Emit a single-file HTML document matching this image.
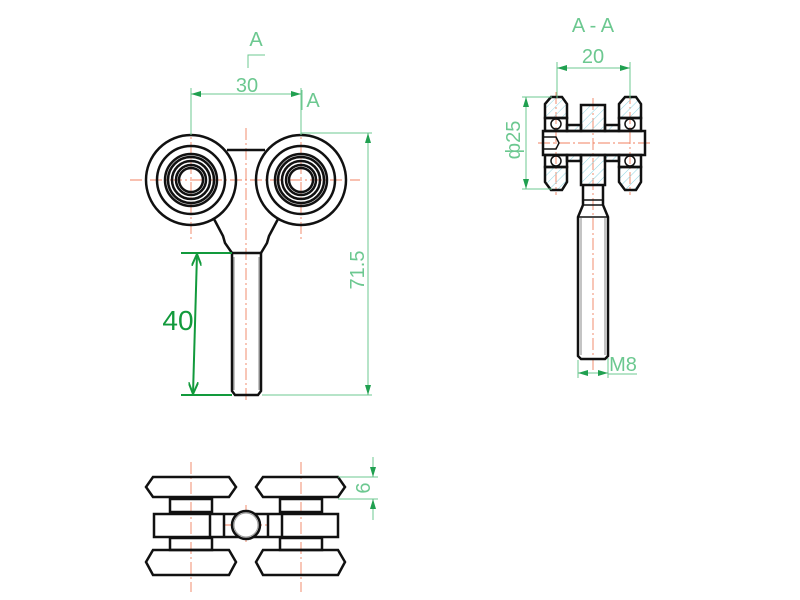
<!DOCTYPE html>
<html><head><meta charset="utf-8"><style>html,body{margin:0;padding:0;background:#fff}svg{display:block}</style></head>
<body>
<svg width="800" height="600" viewBox="0 0 800 600" xmlns="http://www.w3.org/2000/svg" font-family="Liberation Sans, sans-serif">
<defs>
<marker id="a" viewBox="0 0 10 6" refX="10" refY="3" markerWidth="10" markerHeight="6" orient="auto-start-reverse" markerUnits="userSpaceOnUse"><path d="M0,0L10,3L0,6z" fill="#20a050"/></marker>
<marker id="b" viewBox="0 0 12 10" refX="12" refY="5" markerWidth="12" markerHeight="10" orient="auto-start-reverse" markerUnits="userSpaceOnUse"><path d="M0,0L12,5L0,10" fill="none" stroke="#129a3c" stroke-width="2"/></marker>
<pattern id="h" width="6" height="6" patternUnits="userSpaceOnUse" patternTransform="rotate(45)"><line x1="0" y1="0" x2="0" y2="6" stroke="#8fd4e0" stroke-width="1"/></pattern>
</defs>
<g fill="none" stroke="#f08060" stroke-width="0.9" stroke-dasharray="12,3,2,3">
<line x1="130" y1="180" x2="360" y2="180"/>
<line x1="191" y1="122" x2="191" y2="240"/>
<line x1="301" y1="122" x2="301" y2="240"/>
<line x1="246" y1="128" x2="246" y2="400"/>
<line x1="538" y1="143" x2="650" y2="143"/>
<line x1="556" y1="92" x2="556" y2="195"/>
<line x1="630" y1="92" x2="630" y2="195"/>
<line x1="593" y1="98" x2="593" y2="370"/>
<line x1="191" y1="462" x2="191" y2="592"/>
<line x1="301" y1="462" x2="301" y2="592"/>
<line x1="246" y1="505" x2="246" y2="545"/>
<line x1="225" y1="525" x2="268" y2="525"/>
</g>
<g fill="none" stroke="#111" stroke-width="2.5">
<circle cx="191" cy="180" r="45"/><circle cx="191" cy="180" r="34"/><circle cx="191" cy="180" r="26"/><circle cx="191" cy="180" r="23"/><circle cx="191" cy="180" r="19"/><circle cx="191" cy="180" r="15"/><circle cx="191" cy="180" r="12"/>
<circle cx="301" cy="180" r="45"/><circle cx="301" cy="180" r="34"/><circle cx="301" cy="180" r="26"/><circle cx="301" cy="180" r="23"/><circle cx="301" cy="180" r="19"/><circle cx="301" cy="180" r="15"/><circle cx="301" cy="180" r="12"/>
<line x1="227" y1="150" x2="265" y2="150"/>
<path d="M214,219 L223,236 L225,243 L232,253 M278,219 L269,236 L267,243 L261,253"/>
<path d="M232,253 L261,253 M232,253 L232,391 L235,395 L258,395 L261,391 L261,253"/>
<line x1="234" y1="257" x2="234" y2="390" stroke="#888" stroke-width="1"/>
<line x1="259" y1="257" x2="259" y2="390" stroke="#888" stroke-width="1"/>
<path d="M551,97 L562,97 L567,104 L567,118 L545,118 L545,104 Z" fill="url(#h)"/>
<path d="M625,97 L636,97 L641,104 L641,118 L619,118 L619,104 Z" fill="url(#h)"/>
<path d="M545,167 L567,167 L567,182 L562,190 L551,190 L545,182 Z" fill="url(#h)"/>
<path d="M619,167 L641,167 L641,182 L636,190 L625,190 L619,182 Z" fill="url(#h)"/>
<rect x="545" y="118" width="22" height="13"/><rect x="619" y="118" width="22" height="13"/>
<rect x="545" y="155" width="22" height="12"/><rect x="619" y="155" width="22" height="12"/>
<circle cx="556" cy="124" r="5" stroke-width="1.5"/><circle cx="630" cy="124" r="5" stroke-width="1.5"/>
<circle cx="556" cy="161" r="5" stroke-width="1.5"/><circle cx="630" cy="161" r="5" stroke-width="1.5"/>
<rect x="567" y="125" width="14" height="6" fill="url(#h)"/><rect x="605" y="125" width="14" height="6" fill="url(#h)"/>
<rect x="567" y="155" width="14" height="6" fill="url(#h)"/><rect x="605" y="155" width="14" height="6" fill="url(#h)"/>
<rect x="581" y="105" width="24" height="26" fill="url(#h)"/>
<rect x="581" y="155" width="24" height="30" fill="url(#h)"/>
<rect x="543" y="131" width="102" height="24"/>
<path d="M543,137 L556,137 L559,143 L556,149 L543,149" stroke-width="1.5"/>
<path d="M583,185 L583,205 L578,217 L578,356 L581,359 L605,359 L608,356 L608,217 L603,205 L603,185"/>
<line x1="583" y1="200" x2="603" y2="200" stroke-width="1.5"/><line x1="583" y1="205" x2="603" y2="205" stroke-width="1.5"/>
<line x1="578" y1="217" x2="608" y2="217" stroke-width="1.5"/>
<line x1="581" y1="218" x2="581" y2="355" stroke="#888" stroke-width="1"/><line x1="605" y1="218" x2="605" y2="355" stroke="#888" stroke-width="1"/>
<path d="M153,477 L229,477 L236,487 L229,497 L153,497 L146,487 Z"/>
<path d="M263,477 L338,477 L345,487 L338,497 L263,497 L256,487 Z"/>
<path d="M153,550 L229,550 L236,562 L229,575 L153,575 L146,562 Z"/>
<path d="M263,550 L338,550 L345,562 L338,575 L263,575 L256,562 Z"/>
<rect x="170" y="499" width="42" height="13"/><rect x="280" y="499" width="42" height="13"/>
<rect x="170" y="538" width="42" height="12"/><rect x="280" y="538" width="42" height="12"/>
<rect x="154" y="514" width="184" height="23"/>
<line x1="210" y1="514" x2="210" y2="537"/><line x1="224" y1="514" x2="224" y2="537"/><line x1="268" y1="514" x2="268" y2="537"/><line x1="282" y1="514" x2="282" y2="537"/>
<circle cx="246" cy="525" r="14" fill="#fff"/><circle cx="246" cy="525" r="12" stroke="#999" stroke-width="1"/>
</g>
<g fill="none" stroke="#6cc890" stroke-width="1">
<line x1="191" y1="88" x2="191" y2="135"/><line x1="301" y1="88" x2="301" y2="135"/>
<line x1="191" y1="94" x2="301" y2="94" marker-start="url(#a)" marker-end="url(#a)"/>
<path d="M248,68 L248,55 L265,55"/><line x1="302" y1="90" x2="302" y2="110"/>
<line x1="301" y1="133" x2="372" y2="133"/><line x1="262" y1="395" x2="372" y2="395"/>
<line x1="368" y1="133" x2="368" y2="395" marker-start="url(#a)" marker-end="url(#a)"/>
<line x1="557" y1="62" x2="557" y2="98"/><line x1="630" y1="62" x2="630" y2="98"/>
<line x1="557" y1="68" x2="630" y2="68" marker-start="url(#a)" marker-end="url(#a)"/>
<line x1="522" y1="97" x2="552" y2="97"/><line x1="522" y1="189" x2="552" y2="189"/>
<line x1="526" y1="97" x2="526" y2="189" marker-start="url(#a)" marker-end="url(#a)"/>
<line x1="578" y1="360" x2="578" y2="378"/><line x1="608" y1="358" x2="608" y2="378"/>
<line x1="578" y1="373" x2="608" y2="373" marker-start="url(#a)" marker-end="url(#a)"/>
<line x1="608" y1="374" x2="637" y2="374"/>
<line x1="338" y1="477" x2="378" y2="477"/><line x1="338" y1="499" x2="378" y2="499"/>
<line x1="373" y1="457" x2="373" y2="477" marker-end="url(#a)"/><line x1="373" y1="520" x2="373" y2="499" marker-end="url(#a)"/>
</g>
<g stroke="#129a3c" stroke-width="2" fill="none">
<line x1="181" y1="253" x2="232" y2="253"/><line x1="181" y1="395" x2="232" y2="395"/>
<line x1="197" y1="254" x2="193" y2="394" marker-start="url(#b)" marker-end="url(#b)"/>
</g>
<g fill="#6cc890" font-size="20">
<text x="247" y="92" text-anchor="middle">30</text>
<text x="256" y="46" text-anchor="middle">A</text>
<text x="313" y="107" text-anchor="middle">A</text>
<text x="593" y="32" text-anchor="middle">A - A</text>
<text x="593" y="63" text-anchor="middle">20</text>
<text x="623" y="371" text-anchor="middle">M8</text>
<text transform="translate(364,270) rotate(-90)" text-anchor="middle">71.5</text>
<text transform="translate(520,140) rotate(-90)" text-anchor="middle">ф25</text>
<text transform="translate(370,488) rotate(-90)" text-anchor="middle">6</text>
</g>
<text x="178" y="330" fill="#129a3c" font-size="28" text-anchor="middle">40</text>
</svg>
</body></html>
